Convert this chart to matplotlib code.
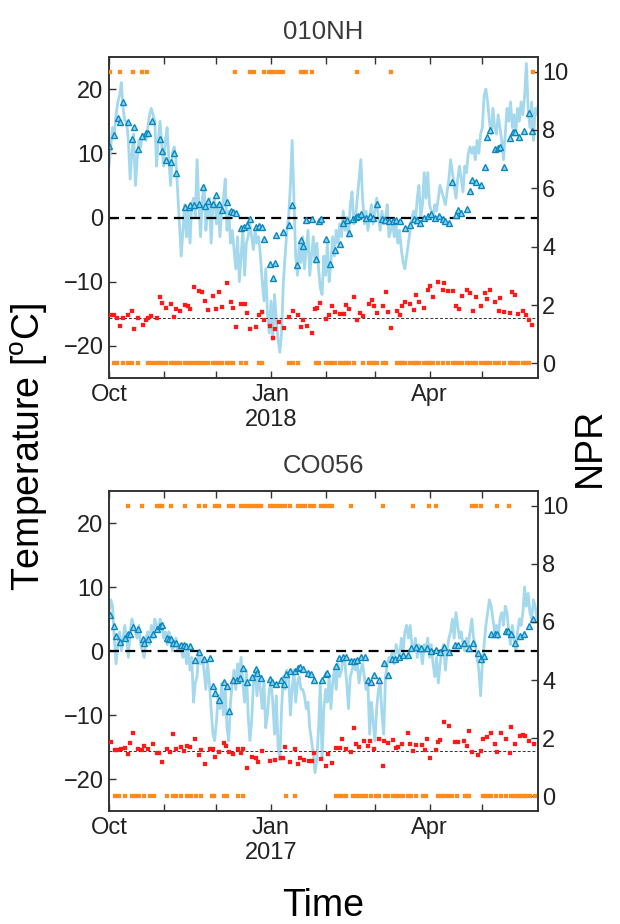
import matplotlib
matplotlib.use("Agg")
import matplotlib.pyplot as plt
import numpy as np

plt.rcParams['font.family'] = ['Liberation Sans', 'DejaVu Sans']
plt.rcParams['mathtext.fontset'] = 'custom'
plt.rcParams['mathtext.rm'] = 'Liberation Sans'
plt.rcParams['mathtext.it'] = 'Liberation Sans:italic'

# ---------------- data: panel 1 (010NH, Oct 2017 - Jun 2018) ----------------
top_title = "010NH"
top_year = "2018"
top_temp = [8, 11, 14, 13, 16, 18, 19, 21, 17, 15,
            15, 12, 6, 10, 13, 5, 9, 12, 11, 13,
            13, 12, 14, 16, 17, 16, 15, 8, 12, 15,
            11, 8, 12, 14, 9, 5, 10, 11, 9, 4,
            -1, -6, -2, 2, -3, 1, -4, 2, 3, 0,
            9, 2, -3, 3, 5, -2, 1, 3, -4, 2,
            3, -1, 2, -3, 1, 3, 6, -2, 1, -4,
            -2, -5, -8, -3, -10, -6, -2, -9, -4, -3,
            -1, -3, -5, -2, -4, -3, -6, -10, -13, -8,
            -15, -18, -13, -19, -12, -16, -19, -21, -18, -10,
            -6, -2, 0, 5, 12, 3, -6, -9, -4, -7,
            -3, -8, -5, -2, -9, -6, -3, -7, -4, -8,
            -11, -12, -6, -9, -4, -10, -7, -3, -6, -2,
            -4, -1, -3, 1, -2, 0, -3, 2, 4, -1,
            0, 3, 6, 9, 3, -1, 1, -2, 0, 2,
            -1, 1, 3, 0, -2, 1, -1, 0, 2, -3,
            -2, -1, -3, -1, -4, -2, -5, -7, -8, -6,
            -4, -2, 0, 1, -1, 3, 5, 0, 2, 7,
            3, 7, 2, 1, 0, 2, 1, 3, 5, 4,
            3, 2, 4, 6, 9, 7, 5, 3, 6, 8,
            6, 4, 8, 7, 10, 11, 10, 11, 9, 12,
            10, 13, 14, 19, 20, 18, 15, 13, 17, 14,
            13, 16, 14, 12, 9, 13, 17, 15, 18, 14,
            16, 13, 17, 15, 18, 16, 19, 24, 17, 14,
            18, 12, 17, 16, 18]

top_tri_days = [0, 3.0, 4.9, 6.3, 8.2, 11, 13.3, 14.2, 16.3, 19, 20.9, 22.4, 24.3, 29, 30,
                32.3, 35.1, 37, 38.2, 43.3, 45.2, 46, 48.4, 51.3, 53.2, 54.3, 56.2, 59.1, 61,
                62.3, 64.2, 67, 69.3, 70.4, 72.2, 75, 76.5, 78.3, 80.3, 83.2, 85.3, 86.6, 88,
                91.2, 93, 94, 95, 99, 102, 104, 107, 108.8, 110, 112, 115, 117.4, 119, 120.2,
                123, 125.4, 128.2, 131, 133, 135, 136.4, 138.5, 140, 141.5, 143, 146, 148, 150,
                152, 155, 157, 159, 161, 163, 165, 168, 171, 173, 175, 176.5, 179, 181, 183,
                185, 187.5, 189.5, 191, 193, 195, 197, 198, 200, 203, 205, 206, 208.5, 211.4,
                213.3, 214.6, 216.5, 219.4, 221, 222.3, 224.3, 227.5, 229.5, 230.4, 232.7,
                235.5, 238.3, 240.3]
top_tri = [11.2, 12.8, 15.5, 14.8, 18.0, 14.8, 12.2, 14.1, 10.6, 12.7, 13.2, 13.1, 15.0, 12.2, 10.4,
           8.9, 8.7, 10.0, 6.9, 1.6, 1.7, 1.9, 2.0, 2.1, 4.8, 1.8, 2.6, 2.1, 3.5,
           2.1, 1.2, 2.4, 1.0, 0.8, 0.7, -1.7, -1.5, -1.1, -0.2, -1.5, -1.4, -1.5, -3.3,
           -7.2, -9.5, -7.1, -2.8, -2.3, -1.2, 2.0, -7.4, -3.5, -4.5, -0.4, -0.2, -6.4, -0.5, -0.2,
           -3.3, -7.2, -5.1, -4.2, -0.9, -0.4, -2.4, -0.3, 0.1, 0.3, 0.5, -0.1, 0.2, -0.1,
           2.1, -0.2, -0.4, -0.5, -0.5, -0.4, -0.6, -1.7, -1.2, -0.2, -0.4, -0.8, 0.0, 0.3, 0.6,
           -0.1, 0.2, -0.3, -0.6, -0.8, 5.5, 0.4, 1.2, 0.7, 1.3, 4.1, 5.8, 5.5, 5.0,
           7.8, 12.6, 13.7, 10.6, 10.9, 11.0, 7.8, 12.4, 13.3, 13.3, 12.5,
           13.5, 16.3, 13.4]

top_npr_days = [0.6, 3.0, 4.8, 6.3, 7.8, 11.0, 13.3, 14.1, 16.2, 19.2,
                21.1, 22.0, 23.9, 27.2, 29.1, 30.2, 32.3, 35.1, 37.0, 38.2,
                40.1, 42.9, 44.6, 46.2, 48.4, 51.1, 53.0, 54.3, 56.2, 59.1,
                61.0, 62.3, 64.2, 67.0, 69.1, 70.3, 72.2, 75.0, 77.1, 78.5,
                80.2, 83.4, 85.3, 86.6, 88.1, 91.3, 92.9, 94.4, 96.5, 99.3,
                102.4, 104.3, 107.3, 109.0, 110.4, 112.3, 115.1, 117.0, 118.3, 119.8,
                123.1, 125.0, 126.5, 128.2, 131.2, 133.2, 134.5, 136.4, 139.2, 141.1,
                142.5, 144.0, 147.4, 149.3, 150.2, 152.1, 155.4, 157.3, 158.6, 160.1,
                163.4, 165.4, 166.4, 168.3, 171.1, 173.4, 174.6, 176.3, 179.1, 181.4,
                182.3, 184.2, 187.1, 189.6, 190.1, 192.4, 195.3, 197.2, 198.5, 200.4,
                203.2, 205.1, 206.7, 208.2, 211.4, 213.3, 214.6, 216.5, 219.4, 221.5,
                222.2, 224.3, 227.5, 229.1, 230.4, 232.3, 235.2, 237.0, 238.6, 240.3]
top_npr = [1.67, 1.65, 1.57, 1.29, 1.54, 1.67, 1.79, 1.18, 1.55, 1.33,
           1.48, 1.54, 1.63, 1.55, 2.26, 2.08, 1.89, 2.04, 1.60, 1.88,
           1.81, 1.99, 1.96, 1.86, 2.61, 2.47, 2.43, 2.14, 1.84, 2.30,
           1.87, 2.43, 1.92, 2.74, 2.12, 1.90, 1.26, 2.03, 2.03, 1.72,
           1.19, 1.24, 1.65, 1.75, 1.50, 1.29, 0.88, 1.19, 1.42, 1.20,
           1.60, 1.79, 1.65, 1.24, 1.48, 1.27, 1.03, 1.88, 1.91, 2.07,
           1.51, 1.65, 1.96, 1.76, 1.71, 1.68, 1.99, 1.88, 2.26, 1.48,
           1.74, 1.62, 2.02, 2.16, 1.96, 1.73, 1.97, 2.45, 1.75, 1.21,
           1.81, 1.67, 1.96, 2.11, 2.02, 1.84, 2.35, 2.11, 1.90, 2.51,
           2.66, 2.28, 2.79, 2.51, 2.74, 2.47, 2.47, 1.98, 1.86, 2.30,
           2.50, 2.42, 1.80, 2.26, 1.96, 2.42, 2.22, 2.53, 2.09, 1.79,
           2.24, 1.76, 1.74, 2.43, 2.36, 1.71, 1.80, 1.65, 1.48, 1.33]
top_npr_threshold = 1.56

top_flag_hi_days = [0.5, 6.3, 13.9, 19.0, 21.5, 71.8, 80.0, 82.6, 88.0, 90.8, 92.1, 93.6, 95.2,
                    96.9, 99.0, 108.8, 110.2, 111.7, 115.1, 141.1, 160.1, 240.8]
top_flag_lo_days = [2.8, 4.8, 8.2, 11.0, 13.3, 16.2, 22.4, 24.3, 26.8, 28.7, 30.4, 32.5, 35.3,
                    37.0, 38.6, 40.5, 43.3, 45.2, 47.5, 50.0, 51.9, 53.7, 56.0, 59.1, 61.0, 62.5,
                    64.2, 67.0, 68.9, 70.3, 75.2, 77.9, 85.3, 86.6, 102.4, 104.3, 107.3, 117.4,
                    119.3, 123.1, 125.0, 126.5, 128.2, 131.2, 133.2, 134.5, 136.4, 139.2, 144.0,
                    147.4, 149.3, 150.2, 152.1, 155.4, 157.3, 163.4, 165.4, 166.4, 168.3, 171.1,
                    173.4, 174.6, 176.3, 179.1, 181.4, 182.3, 184.2, 187.1, 189.6, 192.4, 195.3,
                    197.2, 198.5, 200.4, 203.2, 205.1, 206.7, 208.2, 211.4, 213.3, 214.6, 216.5,
                    219.4, 221.5, 224.3, 227.5, 229.1, 230.4, 232.3, 235.2, 237.0, 238.6]

# ---------------- data: panel 2 (CO056, Oct 2016 - Jun 2017) ----------------
bot_title = "CO056"
bot_year = "2017"
bot_temp = [6, 8, 7, 2, -2, 1, 3, 0, 2, 4,
            2, -1, 3, 5, 4, 3, 2, 4, 1, 0,
            -1, 2, 3, 1, 4, 2, 5, 4, 3, 5,
            4, 2, 3, 1, 3, 2, 0, 1, 2, 0,
            1, 0, -1, 1, -2, 0, -3, -1, -8, -5,
            -4, 0, -2, -1, -3, -6, -2, -5, -9, -13,
            -14, -11, -7, -9, -5, -10, -6, -12, -14, -8,
            -5, -3, -6, -2, -4, -1, -5, -8, -3, -10,
            -14, -11, -5, -3, -7, -4, -6, -9, -5, -12,
            -10, -6, -5, -8, -13, -7, -15, -17, -9, -4,
            -6, -3, -4, -10, -6, -3, -8, -5, -4, -6,
            -6, -7, -9, -8, -12, -14, -16, -19, -17, -12,
            -5, -17, -9, -6, -8, -4, -9, -5, -3, -6,
            -2, -4, -3, -1, -2, -5, -9, -4, -3, -2,
            -3, -2, -5, -3, -2, -4, -6, -5, -13, -8,
            -11, -14, -9, -6, -5, -10, -13, -4, -2, -1,
            -1, 0, -2, 1, 0, -1, 2, 0, 3, 4,
            2, 4, 1, 0, 2, -1, 1, 0, -2, 1,
            0, 2, -1, 1, -2, -4, -1, -5, -2, 0,
            1, -3, 0, 2, 3, 5, 2, 6, 4, 2,
            3, 1, 0, 2, 1, 3, 5, 2, 1, -1,
            -3, -7, -2, 1, 4, 6, 8, 7, 5, 3,
            4, 2, 5, 6, 4, 7, 6, 3, 1, 4,
            2, 0, 3, 5, 4, 6, 10, 7, 9, 6,
            5, 8, 7, 5, 6]

bot_tri_days = [0.6, 3, 4, 6.3, 9.1, 11, 12, 13.9, 16.7, 19.2, 20.1, 22, 24.9, 27.2, 28.7, 30,
                32.9, 34.2, 35.3, 36.3, 38.2, 41, 42.4, 43.9, 46.2, 49, 51.3, 54.1, 57.2, 59.1,
                60.4, 62.3, 65.1, 67.1, 68.4, 70.5, 72.8, 74.6, 76.2, 78.1, 81.3, 83.2, 84.1,
                86.4, 91.3, 92.7, 94.6, 97.4, 99.3, 100.3, 102.6, 105.4, 107.3, 108.4, 110.2,
                113, 114.5, 116.4, 121.2, 123.1, 124, 128.8, 130.7, 132.6, 134.5, 137.3, 139.2,
                141.1, 143, 145.5, 146.8, 148.7, 150.2, 153.5, 156.3, 158.6, 160.7, 162.6, 164.5,
                166.8, 169.6, 171.5, 174.4, 177.2, 180.5, 183, 185.8, 188, 190.5, 193, 196.2,
                198.1, 201.5, 204.2, 206.7, 209.5, 211.5, 213, 217.1, 219, 220.5, 225.2, 226.6,
                228.1, 230.4, 233.2, 235.5, 238.4, 241]
bot_tri = [5.6, 3.9, 2.4, 1.4, 2.1, 2.6, 2.7, 3.8, 3.5, 1.8, 1.3, 1.9, 2.6, 3.4, 3.9, 4.0,
           2.1, 1.9, 1.9, 1.3, 1.2, 1.0, 0.9, 0.8, 0.8, -1.4, -0.1, -1.2, -1.1, -5.4,
           -6.6, -7.6, -4.9, -5.4, -9.4, -4.6, -4.6, -4.2, -2.7, -4.9, -4.0, -2.8, -3.5,
           -4.2, -4.4, -4.9, -5.1, -4.6, -5.1, -3.6, -3.2, -3.2, -2.7, -2.5, -2.8,
           -3.4, -3.6, -4.6, -4.5, -3.6, -3.5, -2.3, -1.1, -1.0, -0.9, -1.6, -1.5,
           -1.4, -1.0, -1.0, -4.6, -4.9, -3.7, -4.5, -1.9, -3.7, -1.3, -1.2, -0.9,
           -0.6, -0.7, 0.4, 0.7, 0.4, 0.4, 0.0, 0.2, -0.1, 0.7, -0.1, 0.9,
           0.9, 1.2, 0.4, 1.2, -0.3, -1.2, -0.8, 2.6, 2.6, 2.7, 3.1, 3.1,
           2.7, 1.3, 2.3, 2.6, 3.9, 5.0]

bot_npr_days = [1.1, 3.4, 4.4, 6.6, 9.1, 11.0, 12.0, 13.9, 16.7, 18.6,
                20.1, 22.0, 24.9, 27.2, 28.5, 30.0, 32.9, 34.8, 36.3, 38.2,
                40.8, 42.7, 44.3, 46.2, 49.0, 50.9, 52.2, 54.3, 57.2, 58.9,
                60.4, 62.3, 65.1, 66.7, 68.0, 70.5, 73.3, 75.0, 76.2, 78.5,
                81.3, 83.2, 84.5, 86.6, 91.3, 94.0, 97.4, 99.0, 99.9, 102.7,
                105.4, 107.3, 108.4, 110.7, 113.6, 115.5, 116.4,
                120.2, 123.1, 124.4, 126.5, 128.8, 131.1, 132.2, 134.5, 137.3, 139.2,
                140.2, 142.1, 144.9, 146.8, 148.3, 150.2, 153.5, 155.4, 156.3, 158.2,
                161.1, 163.0, 164.3, 166.2, 169.6, 171.1, 172.5, 174.4, 177.6, 179.5,
                180.5, 182.3, 185.4, 187.1, 188.2, 190.5, 193.3, 196.2, 198.1, 201.5,
                203.2, 204.4, 206.3, 209.5, 211.4, 212.4, 214.6, 217.1, 219.4, 220.3,
                222.8, 225.2, 227.5, 228.5, 230.4, 233.2, 235.2, 236.1, 238.4, 241.4]
bot_npr = [1.87, 1.59, 1.59, 1.64, 1.67, 1.47, 1.84, 2.19, 1.64, 1.58,
           1.75, 1.62, 1.79, 1.48, 1.48, 1.20, 1.64, 1.52, 2.15, 1.62,
           1.69, 1.56, 1.73, 1.71, 1.99, 1.42, 1.59, 1.13, 1.64, 1.62,
           1.36, 1.52, 1.84, 1.75, 1.54, 1.47, 1.64, 1.48, 1.62, 0.99,
           1.35, 1.31, 1.20, 1.56, 1.21, 1.25, 1.32, 1.33, 1.71, 1.18,
           1.62, 1.12, 1.31, 1.27, 1.21, 1.21, 1.48,
           1.29, 1.04, 1.47, 1.16, 1.65, 1.65, 1.98, 1.62, 1.52, 2.34,
           1.81, 1.71, 1.92, 1.73, 1.90, 1.62, 1.96, 1.04, 1.92, 1.84,
           1.93, 1.65, 1.71, 1.79, 2.19, 1.82, 1.56, 1.76, 1.76, 1.59,
           1.99, 1.31, 1.58, 1.88, 1.93, 2.57, 2.42, 1.88, 1.88, 1.90,
           1.75, 2.24, 1.52, 1.44, 1.56, 1.99, 2.04, 2.19, 1.81, 1.52,
           2.19, 1.96, 1.50, 2.39, 1.82, 2.07, 2.11, 2.07, 1.90, 1.79]
bot_npr_threshold = 1.57

bot_flag_hi_days = [11.0, 19.0, 27.2, 28.7, 30.0, 35.1, 43.3, 50.9, 54.3, 60.4, 62.3, 68.0, 70.3,
                    75.0, 76.9, 78.8, 80.7, 82.6, 84.5, 86.4, 91.3, 93.3, 95.2, 97.4, 99.9, 102.6,
                    107.3, 109.2, 111.1, 113.9, 116.4, 120.2, 121.9, 123.6, 125.3, 126.4, 137.3,
                    155.4, 172.5, 181.9, 185.4, 206.3, 208.5, 211.0, 220.5, 227.2]
bot_flag_lo_days = [3.4, 5.9, 9.1, 12.8, 14.8, 17.3, 20.1, 23.0, 25.3, 32.9, 36.3, 38.2, 41.0,
                    44.3, 46.5, 49.6, 52.2, 58.5, 59.8, 65.5, 67.0, 73.3, 76.2, 100.3, 105.4,
                    128.8, 130.7, 132.6, 134.5, 138.3, 140.2, 142.1, 144.0, 145.9, 148.7, 151.6,
                    153.5, 156.5, 158.2, 161.1, 163.0, 164.8, 166.8, 169.6, 171.5, 174.4, 178.2,
                    180.1, 186.9, 188.6, 190.5, 192.4, 194.9, 197.7, 201.9, 203.2, 204.7, 212.4,
                    213.7, 215.2, 217.1, 219.9, 222.8, 225.6, 228.1, 230.4, 232.9, 234.2, 235.5,
                    237.0, 238.9, 241.8]

# month starts (days after 1 Oct) and their labels
month_starts = [0, 31, 61, 92, 123, 151, 182, 212]
month_labels = ["Oct", "", "", "Jan", "", "", "Apr", ""]
temp_ticks = [-20, -10, 0, 10, 20]
npr_ticks = [0, 2, 4, 6, 8, 10]
flag_hi, flag_lo = 10, 0

# ---------------- styles ----------------
LINE_C = '#a4d8ec'
TRI_FACE = '#8ad6f2'
TRI_EDGE = '#0b86bd'
RED = '#ff1a1a'
ORANGE = '#ff8c1a'
TXT = '#222222'
SPINE = '#333333'

fig = plt.figure(figsize=(6.2, 9.24), dpi=100)
W, H = 620.0, 924.0
ax_top = fig.add_axes([109 / W, 1 - 378 / H, 429 / W, 321 / H])
ax_bot = fig.add_axes([109 / W, 1 - 811 / H, 429 / W, 320 / H])


def panel(ax, title, year, temp, tri_d, tri_v, npr_d, npr_v, thr, hi_d, lo_d):
    days = np.arange(len(temp))
    ax.plot(days, temp, color=LINE_C, lw=2.0, zorder=2, solid_joinstyle='round')
    ax.axhline(0, color='black', lw=1.6, ls=(0, (4.5, 2.8)), zorder=3)
    ax.plot(tri_d, tri_v, ls='none', marker='^', ms=4.6, mfc=TRI_FACE, mec=TRI_EDGE,
            mew=1.0, zorder=4)
    ax.set_xlim(0, 243.6)
    ax.set_ylim(-25, 25)
    ax.set_yticks(temp_ticks)
    ax.set_yticklabels(['\u221220', '\u221210', '0', '10', '20'])
    labs = [l if l != "Jan" else "Jan\n" + year for l in month_labels]
    ax.set_xticks(month_starts)
    ax.set_xticklabels(labs)
    ax.tick_params(axis='both', direction='in', length=5, width=1.0, colors=SPINE,
                   labelcolor=TXT, labelsize=17, top=True, right=False, pad=4)
    for s in ax.spines.values():
        s.set_color(SPINE)
        s.set_linewidth(1.2)
    ax.set_title(title, fontsize=18.5, color='#3a3a3a', pad=13)

    ax2 = ax.twinx()
    ax2.axhline(thr, color='#333333', lw=0.7, ls=(0, (3, 2)), zorder=1)
    ax2.plot(npr_d, npr_v, ls='none', marker='s', ms=2.5, mfc=RED, mec=RED, mew=0.2, zorder=3)
    ax2.plot(hi_d, [flag_hi] * len(hi_d), ls='none', marker='s', ms=2.3, mfc=ORANGE,
             mec=ORANGE, mew=0.2, zorder=3)
    ax2.plot(lo_d, [flag_lo] * len(lo_d), ls='none', marker='s', ms=2.3, mfc=ORANGE,
             mec=ORANGE, mew=0.2, zorder=3)
    ax2.set_ylim(-0.5, 10.5)
    ax2.set_yticks(npr_ticks)
    ax2.tick_params(axis='y', direction='in', length=5, width=1.0, colors=SPINE,
                    labelcolor=TXT, labelsize=17, pad=3)
    for s in ax2.spines.values():
        s.set_color(SPINE)
        s.set_linewidth(1.2)
    ax2.set_xlim(0, 243.6)


panel(ax_top, top_title, top_year, top_temp, top_tri_days, top_tri, top_npr_days, top_npr,
      top_npr_threshold, top_flag_hi_days, top_flag_lo_days)
panel(ax_bot, bot_title, bot_year, bot_temp, bot_tri_days, bot_tri, bot_npr_days, bot_npr,
      bot_npr_threshold, bot_flag_hi_days, bot_flag_lo_days)

fig.text(29 / W, 1 - 447 / H, r'Temperature [$^{\mathrm{o}}$C]', rotation=90, fontsize=27,
         ha='center', va='center', color='black')
fig.text(590 / W, 1 - 447 / H, 'NPR', rotation=90, fontsize=27, ha='center', va='center',
         color='black')
fig.text(323 / W, 1 - 906 / H, 'Time', fontsize=27, ha='center', va='center', color='black')

fig.savefig('out.png', dpi=100)
